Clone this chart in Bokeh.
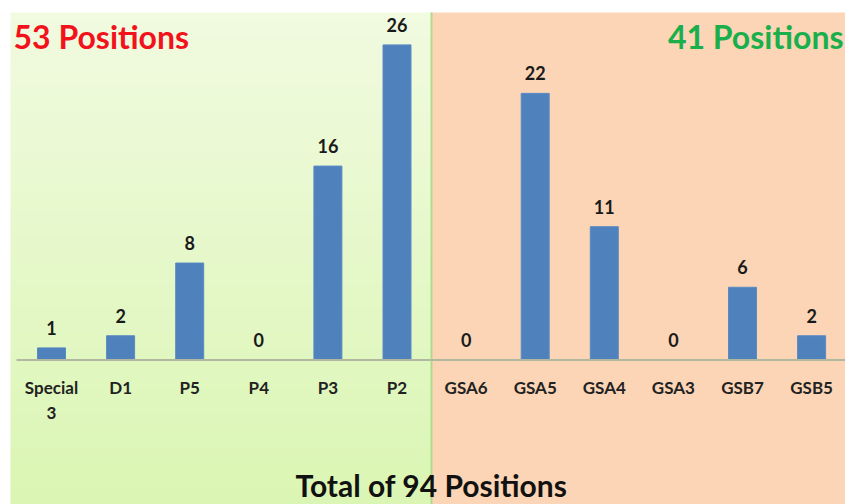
import numpy as np
from bokeh.plotting import figure
from bokeh.models import Range1d, Label, ColumnDataSource
from bokeh.core.properties import value
from bokeh.embed import file_html
from bokeh.resources import INLINE

# ---- data ----
categories = ["Special\n3", "D1", "P5", "P4", "P3", "P2",
              "GSA6", "GSA5", "GSA4", "GSA3", "GSB7", "GSB5"]
positions = [1, 2, 8, 0, 16, 26, 0, 22, 11, 0, 6, 2]
left_total_text = "53 Positions"
right_total_text = "41 Positions"
title_text = "Total of 94 Positions"

W, H = 845, 504
# pixel geometry
X0_PX, DX_PX = 51.0, 69.1          # centre of first bar, spacing
BASE_PX, UNIT_PX = 359.5, 12.12    # baseline, px per unit

def px2x(px):
    return (px - X0_PX) / DX_PX

def px2y(py):
    return (BASE_PX - py) / UNIT_PX

p = figure(width=W, height=H, output_backend="svg", toolbar_location=None,
           x_range=Range1d(px2x(0), px2x(W)), y_range=Range1d(px2y(H), px2y(0)),
           min_border=0, min_border_left=0, min_border_right=0,
           min_border_top=0, min_border_bottom=0)
p.axis.visible = False
p.grid.visible = False
p.outline_line_color = None
p.background_fill_color = "white"
p.border_fill_color = "white"

# ---- backgrounds ----
split_px = 431
top_px = 12
n_strips = 60
edges = np.linspace(top_px, H, n_strips + 1)
c_top = np.array([241, 251, 224])
c_bot = np.array([219, 246, 180])
cols = []
for k in range(n_strips):
    t = k / (n_strips - 1)
    c = (c_top * (1 - t) + c_bot * t).astype(int)
    cols.append("#%02x%02x%02x" % tuple(c))
p.quad(left=[px2x(10)] * n_strips, right=[px2x(split_px)] * n_strips,
       top=[px2y(e) for e in edges[:-1]], bottom=[px2y(e + 0.6) for e in edges[1:]],
       fill_color=cols, line_color=None)
p.quad(left=[px2x(split_px)], right=[px2x(W)], top=[px2y(top_px)], bottom=[px2y(H)],
       fill_color="#fbd5b5", line_color=None)
p.segment(x0=[px2x(split_px)], x1=[px2x(split_px)], y0=[px2y(top_px)], y1=[px2y(H)],
          line_color="#b3d98e", line_width=2)

# ---- bars ----
idx = np.arange(len(categories))
src = ColumnDataSource(dict(x=idx, top=positions, lab=[str(v) for v in positions],
                            cat=categories))
p.vbar(x="x", top="top", bottom=0, width=28 / DX_PX, source=src,
       fill_color="#4f81bd", line_color="#5a8ac4", line_width=1)

# baseline
p.segment(x0=[px2x(16)], x1=[px2x(W)], y0=[0], y1=[0], line_color="#b0b8a0", line_width=2)

# value labels
p.text(x="x", y="top", text="lab", source=src, text_align="center",
       text_baseline="middle", y_offset=-20, text_font=value("Lato"),
       text_font_style="bold", text_font_size="18px", text_color="#1a1a1a")

# category labels
p.text(x="x", y=0, text="cat", source=src, text_align="center",
       text_baseline="top", y_offset=17, text_font=value("Lato"),
       text_font_style="bold", text_font_size="17px", text_color="#222222",
       text_line_height=1.2)

# headers
p.add_layout(Label(x=13, y=H - 36, x_units="screen", y_units="screen",
                   text=left_total_text, text_align="left", text_baseline="middle",
                   text_font="Lato", text_font_style="bold", text_font_size="32px",
                   text_color="#f2121c"))
p.add_layout(Label(x=843, y=H - 36, x_units="screen", y_units="screen",
                   text=right_total_text, text_align="right", text_baseline="middle",
                   text_font="Lato", text_font_style="bold", text_font_size="32px",
                   text_color="#1aaf4b"))
p.add_layout(Label(x=431, y=H - 484, x_units="screen", y_units="screen",
                   text=title_text, text_align="center", text_baseline="middle",
                   text_font="Lato", text_font_style="bold", text_font_size="30px",
                   text_color="#111111"))

open("out.html", "w").write(file_html(p, INLINE))
